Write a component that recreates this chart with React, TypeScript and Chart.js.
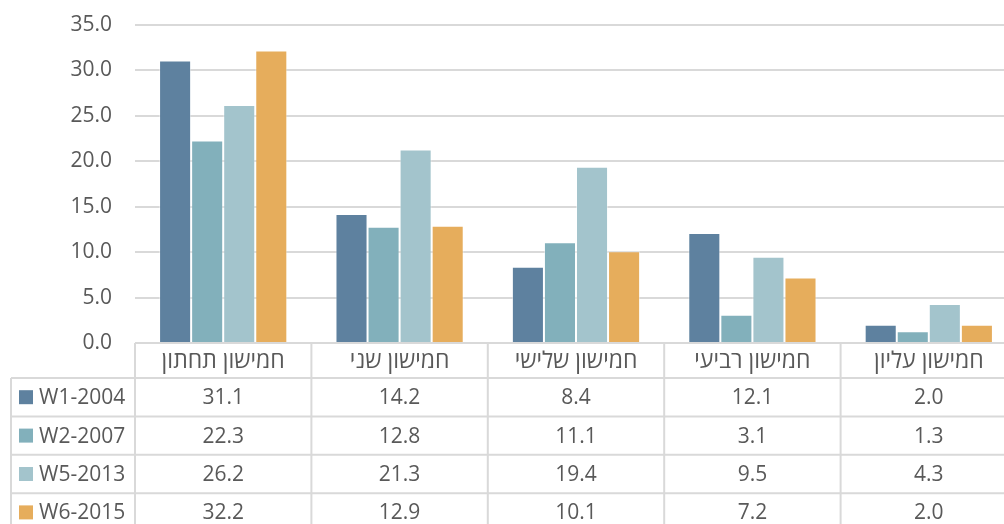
import React, { useEffect, useRef } from "react";
import { Chart, registerables } from "chart.js";

Chart.register(...registerables);

const categories = ["חמישון תחתון", "חמישון שני", "חמישון שלישי", "חמישון רביעי", "חמישון עליון"];
const seriesNames = ["W1-2004", "W2-2007", "W5-2013", "W6-2015"];
const w1Values = [31.1, 14.2, 8.4, 12.1, 2.0];
const w2Values = [22.3, 12.8, 11.1, 3.1, 1.3];
const w5Values = [26.2, 21.3, 19.4, 9.5, 4.3];
const w6Values = [32.2, 12.9, 10.1, 7.2, 2.0];
const seriesColors = ["#5e819f", "#82b0bb", "#a3c4cc", "#e6ad5c"];
const yMin = 0;
const yMax = 35;
const yStep = 5;

const FONT = "'Open Sans', 'DejaVu Sans', sans-serif";
const TEXT = "#595959";
const LINE = "#d9d9d9";
const FONT_SIZE = 21;
const HEADER_FONT_SIZE = 23;

const allValues = [w1Values, w2Values, w5Values, w6Values];

const tablePlugin = {
  id: "dataTable",
  afterDraw(chart: any) {
    const ctx = chart.ctx;
    const area = chart.chartArea;
    const xs = chart.scales.x;
    const n = categories.length;
    const colW = (area.right - area.left) / n;
    const top = area.bottom;
    const headerBottom = top + 35;
    const rowH = 38.4;
    const tableBottom = headerBottom + rowH * seriesNames.length;
    const legendLeft = 11;

    ctx.save();
    ctx.strokeStyle = LINE;
    ctx.lineWidth = 2;
    ctx.beginPath();
    for (let r = 0; r <= seriesNames.length; r++) {
      const y = headerBottom + r * rowH;
      ctx.moveTo(legendLeft, y);
      ctx.lineTo(area.right, y);
    }
    for (let i = 0; i <= n; i++) {
      const x = area.left + i * colW;
      ctx.moveTo(x, top);
      ctx.lineTo(x, tableBottom);
    }
    ctx.moveTo(legendLeft, headerBottom);
    ctx.lineTo(legendLeft, tableBottom);
    ctx.stroke();

    ctx.fillStyle = TEXT;
    ctx.textAlign = "center";
    ctx.textBaseline = "middle";
    for (let i = 0; i < n; i++) {
      const cx = xs.getPixelForValue(i);
      ctx.font = `${HEADER_FONT_SIZE}px ${FONT}`;
      ctx.fillText(categories[i], cx, (top + headerBottom) / 2 + 1);
      ctx.font = `${FONT_SIZE}px ${FONT}`;
      for (let s = 0; s < seriesNames.length; s++) {
        const cy = headerBottom + s * rowH + rowH / 2 + 1;
        ctx.fillText(allValues[s][i].toFixed(1), cx, cy);
      }
    }
    ctx.textAlign = "left";
    ctx.font = `${FONT_SIZE}px ${FONT}`;
    for (let s = 0; s < seriesNames.length; s++) {
      const cy = headerBottom + s * rowH + rowH / 2;
      ctx.fillStyle = seriesColors[s];
      ctx.fillRect(19, cy - 7, 14, 14);
      ctx.fillStyle = TEXT;
      ctx.fillText(seriesNames[s], 39, cy + 1);
    }
    ctx.restore();
  },
};

export default function App() {
  const ref = useRef<HTMLCanvasElement | null>(null);

  useEffect(() => {
    if (!ref.current) return;
    const chart = new Chart(ref.current, {
      type: "bar",
      data: {
        labels: categories,
        datasets: seriesNames.map((name, s) => ({
          label: name,
          data: allValues[s],
          backgroundColor: seriesColors[s],
          borderColor: "rgba(255,255,255,0.45)",
          borderWidth: 1,
          categoryPercentage: 0.727,
          barPercentage: 1,
        })),
      },
      options: {
        animation: false,
        responsive: false,
        maintainAspectRatio: false,
        layout: { padding: { left: 0, top: 25, right: 3, bottom: 197 } },
        plugins: {
          legend: { display: false },
          tooltip: { enabled: false },
        },
        scales: {
          x: { display: false },
          y: {
            min: yMin,
            max: yMax,
            ticks: {
              stepSize: yStep,
              padding: 23,
              color: TEXT,
              font: { family: FONT, size: FONT_SIZE },
              callback: (v: any) => Number(v).toFixed(1),
            },
            grid: { color: LINE, lineWidth: 2, drawTicks: false },
            border: { display: false },
            afterFit: (axis: any) => {
              axis.width = 135;
              axis.paddingTop = 0;
              axis.paddingBottom = 0;
            },
          },
        },
      },
      plugins: [tablePlugin],
    });
    return () => chart.destroy();
  }, []);

  return (
    <div
      style={{
        position: "fixed",
        left: 0,
        top: 0,
        width: 1004,
        height: 524,
        overflow: "hidden",
        background: "#ffffff",
      }}
    >
      <canvas ref={ref} width={1020} height={540} style={{ display: "block" }} />
    </div>
  );
}
